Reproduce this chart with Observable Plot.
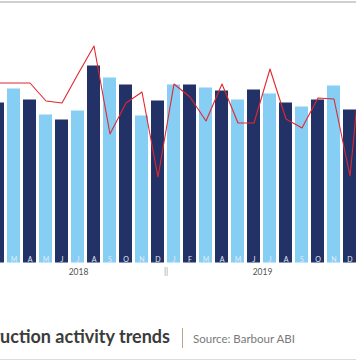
<!DOCTYPE html>
<html><head><meta charset="utf-8">
<script src="https://cdn.jsdelivr.net/npm/d3@7"></script>
<script src="https://cdn.jsdelivr.net/npm/@observablehq/plot@0.6"></script>
<style>
html,body{margin:0;padding:0;background:#fff;overflow:hidden;}
#wrap{position:relative;width:356px;height:364px;overflow:hidden;background:#fff;}
#chart{position:absolute;left:-14.5px;top:0;width:391px;}
#chart svg{display:block;max-width:none !important;}
#topline{position:absolute;left:0;top:1px;width:356px;height:2px;background:#d0d0d0;}
#botline{position:absolute;left:0;top:359px;width:356px;height:1px;background:#dcdcdc;}
#title{position:absolute;right:186px;top:325px;font-family:Lato,sans-serif;font-weight:700;font-size:18px;color:#3b3b3b;white-space:nowrap;}
#sep{position:absolute;left:182px;top:328px;width:1px;height:20px;background:#b9a68e;}
#source{position:absolute;left:193px;top:331.5px;font-family:Lato,sans-serif;font-size:11.5px;color:#7a7a7a;white-space:nowrap;}
</style>
</head><body>
<div id="wrap">
  <div id="topline"></div>
  <div id="chart"></div>
  <div id="title">Construction activity trends</div>
  <div id="sep"></div>
  <div id="source">Source: Barbour ABI</div>
  <div id="botline"></div>
</div>
<script>
const months = ["2018-02","2018-03","2018-04","2018-05","2018-06","2018-07","2018-08","2018-09","2018-10","2018-11","2018-12",
                "2019-01","2019-02","2019-03","2019-04","2019-05","2019-06","2019-07","2019-08","2019-09","2019-10","2019-11","2019-12",
                "2020-01"];
const monthLabels = ["F","M","A","M","J","J","A","S","O","N","D","J","F","M","A","M","J","J","A","S","O","N","D","J"];
const barValues = [160,174,163,148,143,152,197,185,178,147,162,178,178,175,172,163,173,169,160,156,163,177,153,165];
const lineValues = [180,180,180,162,160,189,217,129,160,171,86,179,166,142,179,140,140,194,144,135,165,164,87,252];
const years = ["2018","2019"];
const yearPositions = ["2018-07","2019-06"];
const yearShift = [0.5, 8.5];
const breakAt = "2018-12";

const DARK = "#223166";
const LIGHT = "#86cef3";

const rows = months.map((m, i) => ({month: m, label: monthLabels[i], bar: barValues[i], line: lineValues[i], i}));
const yearRows = years.map((y, i) => ({year: y, at: yearPositions[i], shift: yearShift[i]}));

const chart = Plot.plot({
  width: 391,
  height: 280,
  marginLeft: 0,
  marginRight: 0,
  marginTop: 2.5,
  marginBottom: 17.5,
  style: {background: "transparent", overflow: "visible", maxWidth: "none"},
  x: {type: "band", domain: months, paddingInner: 0.17, paddingOuter: 0.085, axis: null},
  y: {domain: [0, 260], axis: null},
  marks: [
    Plot.barY(rows, {filter: d => d.i % 2 === 0, x: "month", y: "bar", fill: DARK}),
    Plot.barY(rows, {filter: d => d.i % 2 === 1, x: "month", y: "bar", fill: LIGHT}),
    Plot.text(rows, {x: "month", y: () => 0, text: "label", dy: -3.5, fill: "#e4eaf6", fontSize: 7, fontFamily: "Lato"}),
    Plot.line(rows, {x: "month", y: "line", stroke: "#e3262f", strokeWidth: 1.1, curve: "linear"}),
    Plot.text(yearRows.filter(d => d.shift < 1), {x: "at", y: () => 0, text: "year", dy: 9.5, dx: 0.5, fill: "#555", fontSize: 8.5, fontFamily: "Lato"}),
    Plot.text(yearRows.filter(d => d.shift > 1), {x: "at", y: () => 0, text: "year", dy: 9.5, dx: 8.5, fill: "#555", fontSize: 8.5, fontFamily: "Lato"}),
    Plot.text([breakAt], {x: d => d, y: () => 0, text: () => "||", dx: 8, dy: 8, fill: "#999", fontSize: 8.5, fontFamily: "Lato"})
  ]
});
chart.style.maxWidth = "none";
document.getElementById("chart").appendChild(chart);
</script>
</body></html>
